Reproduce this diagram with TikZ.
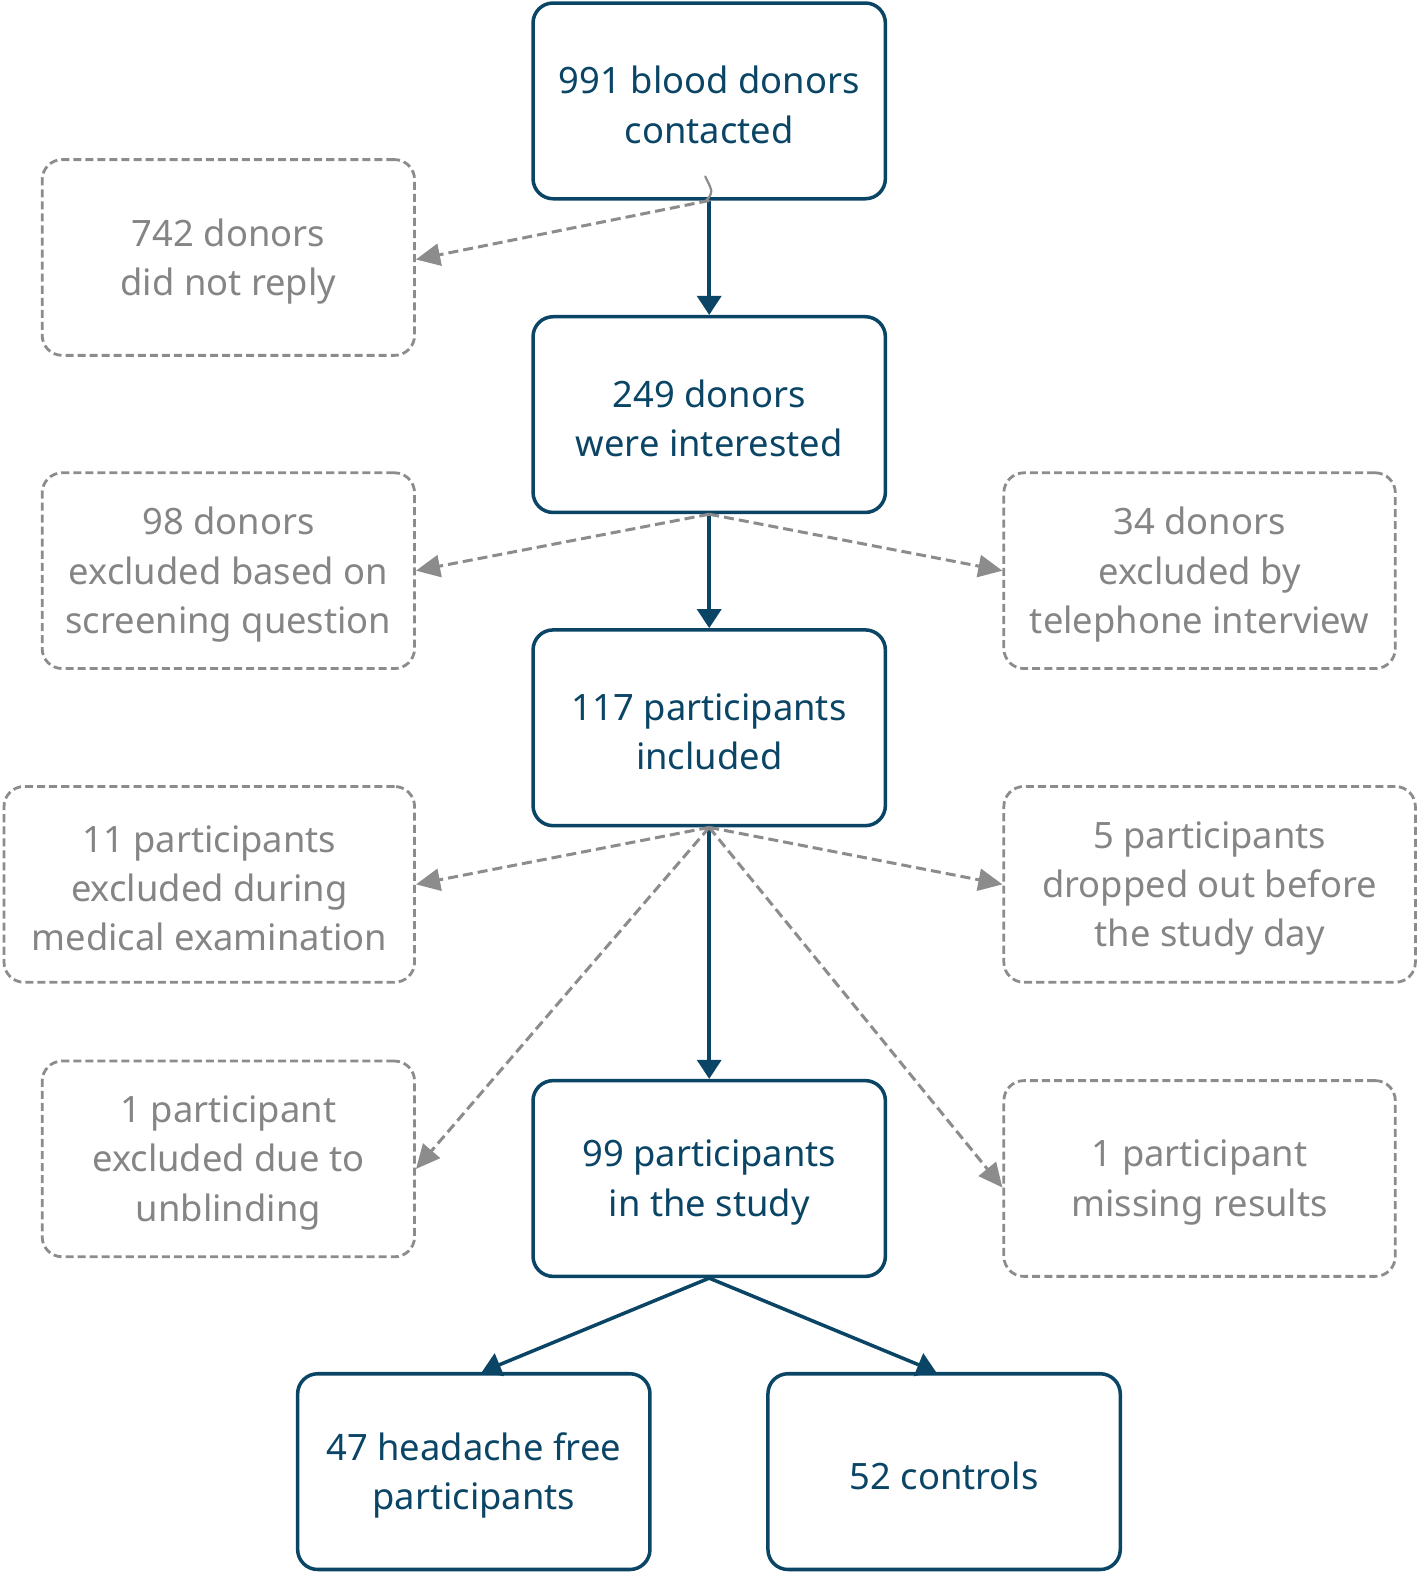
\documentclass[tikz,border=0pt]{standalone}
\usepackage{fontspec}
\setmainfont{Noto Sans}
\usetikzlibrary{arrows.meta}
\definecolor{navy}{HTML}{0B4566}
\definecolor{greyline}{HTML}{8C8C8C}
\definecolor{greytext}{HTML}{858585}
\begin{document}
\begin{tikzpicture}[x=1pt,y=-1pt,
  every node/.style={font=\fontsize{36.2}{49}\selectfont, align=center, inner sep=0pt},
  mtext/.style={text=navy, yshift=-4pt},
  gtext/.style={text=greytext, yshift=-4pt},
  mainbox/.style={draw=navy, line width=3.5pt, rounded corners=20pt,
     minimum width=351pt, minimum height=195pt, label={[mtext]center:{#1}}},
  greybox/.style={draw=greyline, line width=2.8pt, dash pattern=on 8pt off 4pt,
     rounded corners=20pt, minimum height=195pt, label={[gtext]center:{#1}}},
  mainarrow/.style={draw=navy, line width=3.5pt, -{Triangle[length=19pt,width=24pt]}},
  greyarrow/.style={draw=greyline, line width=3pt, dash pattern=on 10pt off 5pt,
     -{Triangle[length=24pt,width=22pt]}}]
\useasboundingbox (0,0) rectangle (1413,1568);
% main boxes
\node[mainbox={991 blood donors\\contacted}] (b1) at (706.5,100.5) {};
\node[mainbox={249 donors\\were interested}] (b2) at (706.5,413) {};
\node[mainbox={117 participants\\included}] (b3) at (706.5,725) {};
\node[mainbox={99 participants\\in the study}] (b4) at (706.5,1174) {};
\node[mainbox={47 headache free\\participants}] (b5) at (472,1466) {};
\node[mainbox={52 controls}] (b6) at (940.5,1466) {};
% grey boxes
\node[greybox={742 donors\\did not reply}, minimum width=371pt] (g1) at (227.5,256.5) {};
\node[greybox={98 donors\\excluded based on\\screening question}, minimum width=371pt] (g2) at (227.5,568.5) {};
\node[greybox={34 donors\\excluded by\\telephone interview}, minimum width=390pt] (g3) at (1195,568.5) {};
\node[greybox={11 participants\\excluded during\\medical examination}, minimum width=409pt] (g4) at (208.5,881) {};
\node[greybox={5 participants\\dropped out before\\the study day}, minimum width=410pt] (g5) at (1205,881) {};
\node[greybox={1 participant\\excluded due to\\unblinding}, minimum width=371pt] (g6) at (227.5,1154.5) {};
\node[greybox={1 participant\\missing results}, minimum width=390pt] (g7) at (1195,1174) {};
% main arrows
\draw[mainarrow] (b1.south) -- (b2.north);
\draw[mainarrow] (b2.south) -- (b3.north);
\draw[mainarrow] (b3.south) -- (b4.north);
\draw[mainarrow] (b4.south) -- ([xshift=8pt]b5.north);
\draw[mainarrow] (b4.south) -- ([xshift=-8pt]b6.north);
% grey arrows
\draw[greyarrow] (b1.south) -- ([yshift=-2pt]g1.east);
\draw[draw=greyline, line width=2.2pt, line cap=round] ([xshift=-3pt]b1.south) .. controls ([xshift=4pt,yshift=8pt]b1.south) .. ([xshift=-4pt,yshift=24pt]b1.south);
\draw[greyarrow] (b2.south) -- (g2.east);
\draw[greyarrow] (b2.south) -- (g3.west);
\draw[greyarrow] (b3.south) -- (g4.east);
\draw[greyarrow] (b3.south) -- (g5.west);
\draw[greyarrow] (b3.south) -- ([yshift=-10pt]g6.east);
\draw[greyarrow] (b3.south) -- ([yshift=-9pt]g7.west);
\end{tikzpicture}
\end{document}
